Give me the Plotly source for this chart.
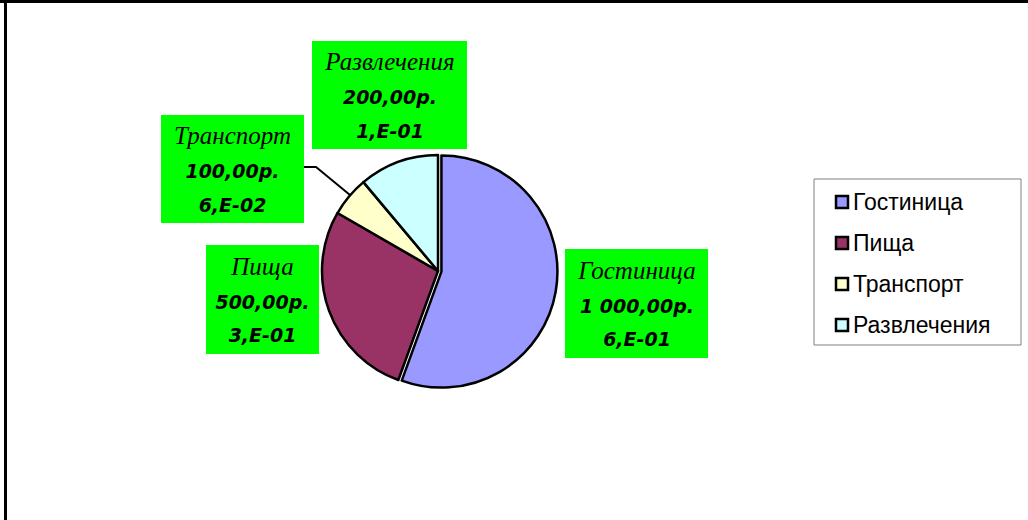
import plotly.graph_objects as go

# ---- data ----
categories = ["Гостиница", "Пища", "Транспорт", "Развлечения"]
values = [1000, 500, 100, 200]
colors = ["#9999FF", "#993366", "#FFFFCC", "#CCFFFF"]
pulls = [0.03, 0.0, 0.0, 0.0]

# label box positions in px (left, top, width, height)
label_boxes = [
    (565, 249, 143, 109),
    (206, 245, 113, 109),
    (161, 115, 143, 108),
    (312, 41, 155, 108),
]

W, H = 1028, 520
total = sum(values)


def fmt_money(v):
    s = f"{v:,.2f}".replace(",", " ").replace(".", ",")
    return s + "р."


def fmt_share(v):
    m, e = f"{v / total:.0e}".split("e")
    return f"{m},E{e}"


def px_x(x):
    return x / W


def px_y(y):
    return 1 - y / H


cx, cy, r = 438, 271, 116
half = r * (1 + max(pulls))

fig = go.Figure(
    go.Pie(
        labels=categories,
        values=values,
        sort=False,
        direction="clockwise",
        rotation=0,
        pull=pulls,
        textinfo="none",
        marker=dict(colors=colors, line=dict(color="black", width=2.5)),
        domain=dict(x=[px_x(cx - half), px_x(cx + half)],
                    y=[px_y(cy + half), px_y(cy - half)]),
        showlegend=False,
    )
)

num_style = "font-family:'DejaVu Sans';font-style:italic;font-weight:bold;font-size:19px"
for cat, val, (lx, ty, bw, bh) in zip(categories, values, label_boxes):
    text = (f"<span style=\"font-size:25px\"><i>{cat}</i></span><br>"
            f"<span style=\"{num_style}\">{fmt_money(val)}</span><br>"
            f"<span style=\"{num_style}\">{fmt_share(val)}</span>")
    fig.add_annotation(
        x=px_x(lx), y=px_y(ty), xref="paper", yref="paper",
        xanchor="left", yanchor="top", showarrow=False,
        width=bw, height=bh, borderpad=0, borderwidth=0,
        bgcolor="#00FF00", align="center", valign="middle",
        text=text,
        font=dict(family="Liberation Serif", size=26, color="black"),
    )

# leader line for Транспорт
fig.add_shape(type="path", xref="paper", yref="paper",
              path=f"M {px_x(304)} {px_y(167)} L {px_x(316)} {px_y(167)} L {px_x(350)} {px_y(195)}",
              line=dict(color="black", width=2))

# manual legend
fig.add_shape(type="rect", xref="paper", yref="paper",
              x0=px_x(814), x1=px_x(1021), y0=px_y(345), y1=px_y(179),
              line=dict(color="#808080", width=1), fillcolor="white")
item_y = [202, 243, 284, 325]
for cat, col, iy in zip(categories, colors, item_y):
    fig.add_shape(type="rect", xref="paper", yref="paper",
                  x0=px_x(836), x1=px_x(848), y0=px_y(iy + 6), y1=px_y(iy - 6),
                  line=dict(color="black", width=2.5), fillcolor=col)
    fig.add_annotation(x=px_x(851), y=px_y(iy), xref="paper", yref="paper",
                       xanchor="left", yanchor="middle", showarrow=False,
                       text=cat, font=dict(family="Liberation Sans", size=23, color="black"))

# frame lines (top and left)
fig.add_shape(type="rect", xref="paper", yref="paper",
              x0=0, x1=1, y0=px_y(3), y1=1, line=dict(width=0), fillcolor="black")
fig.add_shape(type="rect", xref="paper", yref="paper",
              x0=px_x(4), x1=px_x(7), y0=0, y1=1, line=dict(width=0), fillcolor="black")

fig.update_layout(
    width=W, height=H,
    margin=dict(l=0, r=0, t=0, b=0),
    paper_bgcolor="white", plot_bgcolor="white",
)

fig.write_html(
    "out.html",
    config={"displayModeBar": False},
    post_script="document.body.style.margin='0';document.body.style.overflow='hidden';",
)
